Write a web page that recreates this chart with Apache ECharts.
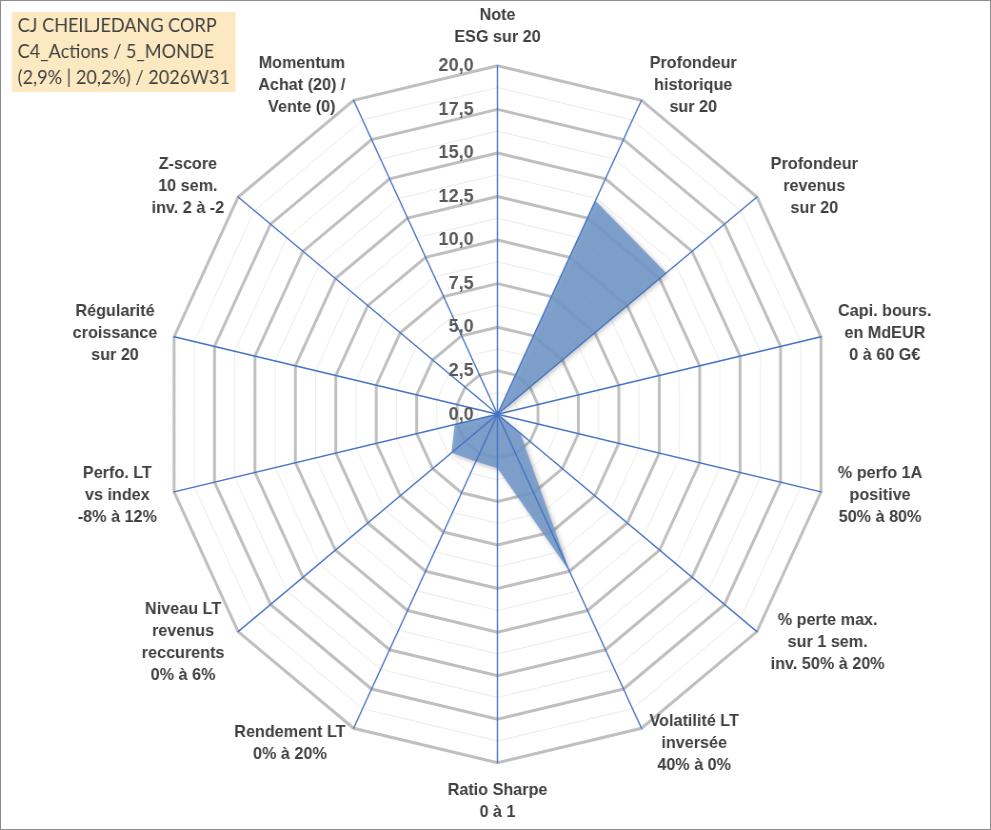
<!DOCTYPE html>
<html>
<head>
<meta charset="utf-8">
<title>CJ CHEILJEDANG CORP - radar</title>
<script src="https://cdn.jsdelivr.net/npm/echarts@6/dist/echarts.min.js"></script>
<style>
    html, body{margin:0; padding:0; background:#fff;}
    #frame{position:relative; width:991px; height:830px; box-sizing:border-box; border:1px solid #8c8c8c; overflow:hidden; background:#fff;}
    #inner{position:absolute; left:0; top:0; width:980px; height:822px; border-right:1px solid #dadada; border-bottom:1px solid #dadada;}
    /* the reference radar is a bit narrower than tall, so the chart is drawn wider and squeezed */
    #ChartMain{position:absolute; left:-1px; top:-1px; width:1041px; height:830px; transform:scaleX(0.952); transform-origin:0 0;}
</style>
</head>
<body>
<div id="frame">
    <div id="inner"></div>
    <div id="ChartMain"></div>
</div>
<script type="text/javascript">
    // axes, clockwise from the top
    var categories = [
        'Note\nESG sur 20',
        'Profondeur\nhistorique\nsur 20',
        'Profondeur\nrevenus\nsur 20',
        'Capi. bours.\nen MdEUR\n0 à 60 G€',
        '% perfo 1A\npositive\n50% à 80%',
        '% perte max.\nsur 1 sem.\ninv. 50% à 20%',
        'Volatilité LT\ninversée\n40% à 0%',
        'Ratio Sharpe\n0 à 1',
        'Rendement LT\n0% à 20%',
        'Niveau LT\nrevenus\nreccurents\n0% à 6%',
        'Perfo. LT\nvs index\n-8% à 12%',
        'Régularité\ncroissance\nsur 20',
        'Z-score\n10 sem.\ninv. 2 à -2',
        'Momentum\nAchat (20) /\nVente (0)'
    ];
    var scores = [0, 13.6, 13.0, 0, 0, 1.75, 10.0, 3.1, 3.0, 3.55, 2.65, 0, 0, 0];
    var scaleMin = 0;
    var scaleMax = 20;
    var majorSplits = 8;   // 2,5 steps
    var minorSplits = 16;  // 1,25 steps
    var titleLines = ['CJ CHEILJEDANG CORP', 'C4_Actions / 5_MONDE', '(2,9% | 20,2%) / 2026W31'];

    var nameFont = 'bold 17px Arial';
    var labelColor = '#404040';

    // echarts lays radar axes out counter-clockwise: keep the first, reverse the rest
    var order = [0];
    for (var i = categories.length - 1; i > 0; i--) order.push(i);

    // width of each name block = its longest line, lines centred inside it
    var ctx = document.createElement('canvas').getContext('2d');
    ctx.font = nameFont;
    var rich = {};
    order.forEach(function (idx, k) {
        var w = 0;
        categories[idx].split('\n').forEach(function (l) { w = Math.max(w, ctx.measureText(l).width); });
        rich['n' + k] = {
            width: Math.ceil(w) + 2, align: 'center',
            fontFamily: 'Arial', fontWeight: 'bold', fontSize: 17, lineHeight: 22, color: labelColor
        };
    });

    function indicators(withLabel) {
        return order.map(function (idx, k) {
            return {
                name: categories[idx], min: scaleMin, max: scaleMax,
                axisLabel: {show: withLabel && k === 0}
            };
        });
    }

    function radarBase(extra) {
        var r = {
            center: [522.6, 414.3],
            radius: 348.5,
            startAngle: 90,
            shape: 'polygon',
            splitArea: {show: false},
            axisLine: {show: false},
            axisTick: {show: false},
            axisLabel: {show: false},
            axisName: {show: false},
            splitLine: {show: false}
        };
        for (var key in extra) r[key] = extra[key];
        return r;
    }

    var myChart = echarts.init(document.getElementById('ChartMain'));
    var option = {
        backgroundColor: '#fff',
        animation: false,
        title: {
            text: titleLines.join('\n'),
            left: 12.6,
            top: 12,
            padding: [1, 6, 1, 6],
            backgroundColor: '#fde9c1',
            textStyle: {
                fontFamily: 'Lato, "Open Sans", sans-serif',
                fontWeight: 'normal',
                fontSize: 19,
                lineHeight: 26,
                color: labelColor
            }
        },
        radar: [
            // fine rings
            radarBase({
                z: 0,
                indicator: indicators(false),
                splitNumber: minorSplits,
                splitLine: {show: true, lineStyle: {color: '#ececec', width: 1}}
            }),
            // main rings
            radarBase({
                z: 1,
                indicator: indicators(false),
                splitNumber: majorSplits,
                splitLine: {show: true, lineStyle: {color: '#bfbfbf', width: 3}}
            }),
            // spokes, tick labels, names
            radarBase({
                z: 3,
                indicator: indicators(true),
                splitNumber: majorSplits,
                axisLine: {show: true, lineStyle: {color: '#4472c4', width: 1.4}},
                axisLabel: {
                    show: false,
                    showMinLabel: true,
                    showMaxLabel: true,
                    margin: 25,
                    fontFamily: 'Arial',
                    fontWeight: 'bold',
                    fontSize: 19,
                    color: '#595959',
                    formatter: function (v) { return v.toFixed(1).replace('.', ','); }
                },
                axisNameGap: 17,
                axisName: {
                    show: true,
                    color: labelColor,
                    fontFamily: 'Arial',
                    fontWeight: 'bold',
                    fontSize: 17,
                    lineHeight: 22,
                    rich: rich,
                    formatter: function (name) {
                        var k = order.indexOf(categories.indexOf(name));
                        return name.split('\n').map(function (l) { return '{n' + k + '|' + l + '}'; }).join('\n');
                    }
                }
            })
        ],
        series: [{
            type: 'radar',
            radarIndex: 1,
            z: 2,
            symbol: 'none',
            lineStyle: {width: 0, opacity: 0},
            areaStyle: {
                color: '#7399c8',
                opacity: 0.88,
                shadowBlur: 5,
                shadowColor: 'rgba(0,0,0,0.28)',
                shadowOffsetX: 2,
                shadowOffsetY: 2
            },
            data: [{value: order.map(function (idx) { return scores[idx]; })}]
        }]
    };
    myChart.setOption(option);
</script>
</body>
</html>
